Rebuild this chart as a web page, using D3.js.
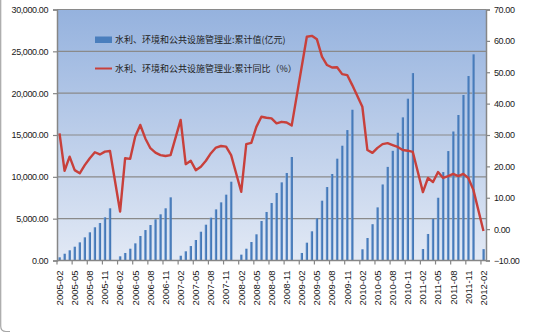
<!DOCTYPE html>
<html>
<head>
<meta charset="utf-8">
<script src="https://cdn.jsdelivr.net/npm/d3@7"></script>
<style>
  html, body { margin: 0; padding: 0; background: #fff; }
  svg { display: block; }
</style>
</head>
<body>
<svg id="chart" width="533" height="333"></svg>
<script>
// Monthly categories (January has no separate release; its slot stays empty)
const categories = [
  "2005-02","2005-03","2005-04","2005-05","2005-06","2005-07","2005-08","2005-09","2005-10","2005-11","2005-12",
  "2006-01","2006-02","2006-03","2006-04","2006-05","2006-06","2006-07","2006-08","2006-09","2006-10","2006-11","2006-12",
  "2007-01","2007-02","2007-03","2007-04","2007-05","2007-06","2007-07","2007-08","2007-09","2007-10","2007-11","2007-12",
  "2008-01","2008-02","2008-03","2008-04","2008-05","2008-06","2008-07","2008-08","2008-09","2008-10","2008-11","2008-12",
  "2009-01","2009-02","2009-03","2009-04","2009-05","2009-06","2009-07","2009-08","2009-09","2009-10","2009-11","2009-12",
  "2010-01","2010-02","2010-03","2010-04","2010-05","2010-06","2010-07","2010-08","2010-09","2010-10","2010-11","2010-12",
  "2011-01","2011-02","2011-03","2011-04","2011-05","2011-06","2011-07","2011-08","2011-09","2011-10","2011-11","2011-12",
  "2012-01","2012-02"
];

// 累计值 (亿元)
const cumulativeValue = [
  380, 810, 1220, 1650, 2170, 2770, 3370, 3970, 4480, 5160, 6240,
  null, 500, 900, 1410, 2050, 2930, 3640, 4240, 4920, 5520, 6240, 7550,
  null, 570, 1100, 1730, 2450, 3440, 4280, 5120, 6110, 6950, 7870, 9420,
  null, 700, 1410, 2210, 3130, 4720, 5800, 6870, 8070, 9340, 10460, 12370,
  null, 900, 2130, 3490, 5040, 7150, 8780, 10340, 12170, 13720, 15590, 18020,
  null, 1340, 2690, 4340, 6350, 9090, 11190, 13110, 15270, 17110, 19340, 22400,
  null, 1370, 3170, 4990, 7500, 10570, 13080, 15420, 17390, 19780, 22050, 24640,
  null, 1360
];

// 累计同比 (%)
const cumulativeYoY = [
  30.5, 18.6, 23.1, 18.8, 17.8, 20.4, 22.6, 24.5, 23.8, 24.7, 24.9,
  null, 5.6, 22.6, 22.4, 29.5, 33.2, 28.9, 25.8, 24.4, 23.6, 23.3, 23.6,
  null, 34.8, 20.7, 21.8, 18.8, 19.9, 21.8, 24.2, 26.0, 26.5, 26.3, 23.6,
  null, 11.9, 27.1, 27.5, 32.6, 35.8, 35.5, 35.3, 33.7, 34.2, 34.0, 33.0,
  null, 51.9, 61.3, 61.6, 60.5, 55.0, 52.3, 51.5, 51.6, 49.4, 49.1, 45.9,
  null, 39.0, 25.2, 24.3, 25.9, 27.1, 27.4, 26.8, 26.2, 25.2, 25.0, 24.6,
  null, 11.8, 16.3, 15.0, 18.2, 16.3, 16.9, 17.6, 16.9, 17.6, 16.3, 12.5,
  null, -0.6
];

const tickLabels = [
  "2005-02","2005-05","2005-08","2005-11","2006-02","2006-05","2006-08","2006-11",
  "2007-02","2007-05","2007-08","2007-11","2008-02","2008-05","2008-08","2008-11",
  "2009-02","2009-05","2009-08","2009-11","2010-02","2010-05","2010-08","2010-11",
  "2011-02","2011-05","2011-08","2011-11","2012-02"
];

const leftTicks = [0, 5000, 10000, 15000, 20000, 25000, 30000];
const rightTicks = [-10, 0, 10, 20, 30, 40, 50, 60, 70];

const seriesNames = [
  "水利、环境和公共设施管理业:累计值(亿元)",
  "水利、环境和公共设施管理业:累计同比（%）"
];

// ---- layout ----
const plot = { left: 57, right: 486, top: 9.5, bottom: 260.5 };
const svg = d3.select("#chart");

const x = d3.scaleBand().domain(categories).range([plot.left, plot.right]).padding(0);
const yL = d3.scaleLinear().domain([0, 30000]).range([plot.bottom, plot.top]);
const yR = d3.scaleLinear().domain([-10, 70]).range([plot.bottom, plot.top]);

const defs = svg.append("defs");
const bg = defs.append("linearGradient").attr("id", "plotBg")
  .attr("x1", 0).attr("y1", 0).attr("x2", 0).attr("y2", 1);
bg.append("stop").attr("offset", "0%").attr("stop-color", "#95b2de");
bg.append("stop").attr("offset", "100%").attr("stop-color", "#e2e9f5");

const barGrad = defs.append("linearGradient").attr("id", "barFill")
  .attr("x1", 0).attr("y1", 0).attr("x2", 1).attr("y2", 0);
barGrad.append("stop").attr("offset", "0%").attr("stop-color", "#7fa6d8");
barGrad.append("stop").attr("offset", "45%").attr("stop-color", "#4a7ebd");
barGrad.append("stop").attr("offset", "100%").attr("stop-color", "#3f72b0");

// outer frame fragment on the left
svg.append("path")
  .attr("d", "M0.7,0 L0.7,326 Q0.7,331.5 6,331.5 L10,331.5")
  .attr("fill", "none").attr("stroke", "#a6a6a6").attr("stroke-width", 1.2);

// plot background
svg.append("rect")
  .attr("x", plot.left).attr("y", plot.top)
  .attr("width", plot.right - plot.left).attr("height", plot.bottom - plot.top)
  .attr("fill", "url(#plotBg)");

// gridlines from the left axis
svg.append("g").selectAll("line").data(leftTicks.filter(d => d > 0)).join("line")
  .attr("x1", plot.left).attr("x2", plot.right)
  .attr("y1", d => yL(d)).attr("y2", d => yL(d))
  .attr("stroke", "#8a8a8a").attr("stroke-width", 1.2);

// bars
const barW = x.bandwidth() * 0.48;
svg.append("g").selectAll("rect")
  .data(categories.map((c, i) => ({ c, v: cumulativeValue[i] })).filter(d => d.v != null))
  .join("rect")
  .attr("x", d => x(d.c) + (x.bandwidth() - barW) / 2)
  .attr("y", d => yL(d.v))
  .attr("width", barW)
  .attr("height", d => yL(0) - yL(d.v))
  .attr("fill", "url(#barFill)");

// line (points joined across the empty January slots)
const linePts = categories.map((c, i) => ({ c, v: cumulativeYoY[i] })).filter(d => d.v != null);
svg.append("path")
  .datum(linePts)
  .attr("fill", "none")
  .attr("stroke", "#c8403b")
  .attr("stroke-width", 2.4)
  .attr("stroke-linejoin", "round")
  .attr("d", d3.line().x(d => x(d.c) + x.bandwidth() / 2).y(d => yR(d.v)));

// axes
const axisColor = "#868686";
const leftAxis = svg.append("g").attr("transform", `translate(${plot.left},0)`)
  .call(d3.axisLeft(yL).tickValues(leftTicks).tickFormat(d3.format(",.2f")).tickSize(4).tickPadding(5));
const rightAxis = svg.append("g").attr("transform", `translate(${plot.right},0)`)
  .call(d3.axisRight(yR).tickValues(rightTicks).tickFormat(d3.format(".2f")).tickSize(4).tickPadding(4));
[leftAxis, rightAxis].forEach(g => {
  g.select(".domain").attr("stroke", axisColor).attr("stroke-width", 1.5);
  g.selectAll(".tick line").attr("stroke", axisColor).attr("stroke-width", 1.2);
  g.selectAll("text").attr("fill", "#1a1a1a")
    .style("font-family", "'Liberation Sans', Arial, sans-serif")
    .style("font-size", "9px").style("letter-spacing", "-0.4px");
});

// bottom axis: labels centred on their month, ticks on band boundaries
const bottomAxis = svg.append("g").attr("transform", `translate(0,${plot.bottom})`)
  .call(d3.axisBottom(x).tickValues(tickLabels).tickSize(0).tickPadding(0));
bottomAxis.select(".domain").remove();
bottomAxis.append("line")
  .attr("x1", plot.left).attr("x2", plot.right).attr("y1", 0).attr("y2", 0)
  .attr("stroke", axisColor).attr("stroke-width", 1.5);
bottomAxis.selectAll(".tick text")
  .attr("transform", "rotate(-90)")
  .attr("x", -10).attr("y", 0).attr("dy", "0.35em")
  .attr("text-anchor", "end")
  .attr("fill", "#1a1a1a")
  .style("font-family", "'Liberation Sans', Arial, sans-serif")
  .style("font-size", "9.5px");
bottomAxis.append("g").selectAll("line").data(tickLabels).join("line")
  .attr("x1", d => x(d)).attr("x2", d => x(d))
  .attr("y1", 0).attr("y2", 4)
  .attr("stroke", axisColor).attr("stroke-width", 1.2);

// legend
const legend = svg.append("g")
  .style("font-family", "'Noto Sans CJK SC', sans-serif")
  .style("font-size", "9px").attr("fill", "#222");
legend.append("rect").attr("x", 95).attr("y", 36.5).attr("width", 17).attr("height", 6.5).attr("fill", "#4a7ebd");
legend.append("text").attr("x", 115).attr("y", 40).attr("dy", "0.35em").text(seriesNames[0]);
legend.append("line").attr("x1", 95).attr("x2", 112).attr("y1", 68.5).attr("y2", 68.5)
  .attr("stroke", "#c8403b").attr("stroke-width", 2);
legend.append("text").attr("x", 115).attr("y", 68.5).attr("dy", "0.35em").text(seriesNames[1]);
</script>
</body>
</html>
